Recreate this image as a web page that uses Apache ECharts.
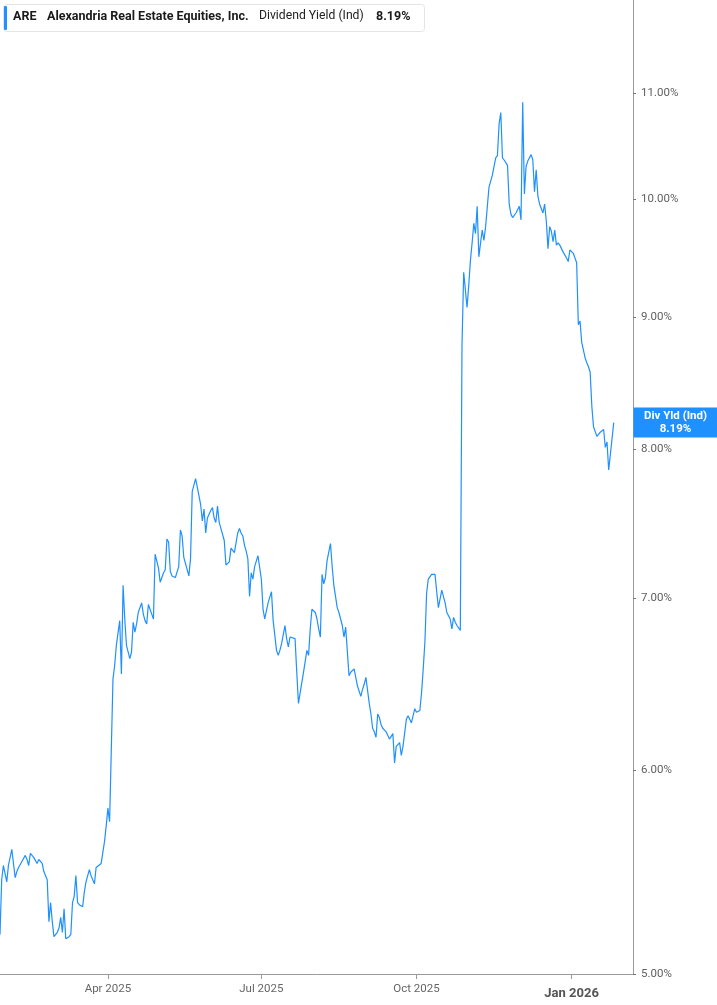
<!DOCTYPE html>
<html><head><meta charset="utf-8">
<script src="https://cdn.jsdelivr.net/npm/echarts@6/dist/echarts.min.js"></script>
<style>html,body{margin:0;padding:0;background:#fff}#c{width:717px;height:1005px}</style>
</head><body><div id="c"></div>
<script>
const ticker = 'ARE';
const company = 'Alexandria Real Estate Equities, Inc.';
const metric = 'Dividend Yield (Ind)';
const pointerTitle = 'Div Yld (Ind)';

const q1 = [['2025-01-27',5.18],['2025-01-28',5.44],['2025-01-29',5.51],['2025-01-30',5.51],['2025-01-31',5.43],
['2025-02-01',5.51],['2025-02-03',5.59],['2025-02-04',5.59],['2025-02-05',5.45],['2025-02-06',5.48],['2025-02-07',5.50],
['2025-02-09',5.53],['2025-02-11',5.56],['2025-02-12',5.54],['2025-02-13',5.51],['2025-02-14',5.57],['2025-02-16',5.55],
['2025-02-18',5.52],['2025-02-19',5.54],['2025-02-21',5.52],['2025-02-22',5.48],['2025-02-24',5.44],['2025-02-25',5.24],
['2025-02-26',5.33],['2025-02-27',5.24],['2025-02-28',5.17],['2025-03-02',5.19],['2025-03-03',5.21],['2025-03-04',5.26],
['2025-03-05',5.19],['2025-03-06',5.30],['2025-03-07',5.16],['2025-03-09',5.17],['2025-03-10',5.18],['2025-03-11',5.33],
['2025-03-12',5.36],['2025-03-13',5.46],['2025-03-14',5.33],['2025-03-15',5.32],['2025-03-17',5.31],['2025-03-18',5.38],
['2025-03-19',5.43],['2025-03-21',5.49],['2025-03-22',5.46],['2025-03-24',5.42],['2025-03-25',5.50],['2025-03-26',5.50],
['2025-03-28',5.52],['2025-03-30',5.63],['2025-03-31',5.71]];

const q2 = [['2025-04-01',5.80],['2025-04-02',5.73],['2025-04-04',6.51],['2025-04-05',6.59],['2025-04-06',6.71],['2025-04-08',6.86],
['2025-04-09',6.54],['2025-04-10',7.08],['2025-04-11',6.87],['2025-04-12',6.71],['2025-04-14',6.63],['2025-04-15',6.67],
['2025-04-16',6.85],['2025-04-17',6.79],['2025-04-18',6.84],['2025-04-19',6.91],['2025-04-21',6.97],['2025-04-22',6.90],
['2025-04-23',6.86],['2025-04-24',6.84],['2025-04-25',6.96],['2025-04-26',6.95],['2025-04-27',6.90],['2025-04-28',6.87],
['2025-04-29',7.28],['2025-04-30',7.27],['2025-05-01',7.19],['2025-05-02',7.10],['2025-05-03',7.13],['2025-05-04',7.16],
['2025-05-05',7.18],['2025-05-06',7.38],['2025-05-07',7.36],['2025-05-08',7.17],['2025-05-09',7.14],['2025-05-11',7.13],
['2025-05-12',7.12],['2025-05-13',7.20],['2025-05-14',7.44],['2025-05-15',7.40],['2025-05-16',7.26],['2025-05-18',7.18],
['2025-05-19',7.14],['2025-05-20',7.25],['2025-05-21',7.70],['2025-05-22',7.71],['2025-05-23',7.79],['2025-05-24',7.73],
['2025-05-25',7.67],['2025-05-26',7.61],['2025-05-27',7.50],['2025-05-28',7.58],['2025-05-29',7.42],['2025-05-30',7.52],
['2025-06-01',7.57],['2025-06-02',7.59],['2025-06-03',7.52],['2025-06-04',7.49],['2025-06-05',7.60],['2025-06-06',7.49],
['2025-06-07',7.45],['2025-06-09',7.37],['2025-06-10',7.21],['2025-06-12',7.23],['2025-06-13',7.32],['2025-06-15',7.29],
['2025-06-16',7.28],['2025-06-17',7.42],['2025-06-18',7.45],['2025-06-19',7.42],['2025-06-20',7.40],['2025-06-21',7.34],
['2025-06-22',7.30],['2025-06-23',7.25],['2025-06-24',7.01],['2025-06-25',7.16],['2025-06-26',7.12],['2025-06-27',7.20],
['2025-06-29',7.27]];

const q3 = [['2025-07-01',7.12],['2025-07-02',6.93],['2025-07-03',6.87],['2025-07-04',6.92],['2025-07-05',6.97],['2025-07-07',7.04],
['2025-07-08',6.86],['2025-07-09',6.86],['2025-07-10',6.68],['2025-07-11',6.65],['2025-07-12',6.68],['2025-07-13',6.72],
['2025-07-15',6.83],['2025-07-16',6.75],['2025-07-17',6.70],['2025-07-18',6.76],['2025-07-19',6.76],['2025-07-21',6.75],
['2025-07-22',6.55],['2025-07-23',6.37],['2025-07-24',6.43],['2025-07-25',6.43],['2025-07-26',6.55],['2025-07-28',6.68],
['2025-07-29',6.65],['2025-07-30',6.81],['2025-07-31',6.93],['2025-08-01',6.94],['2025-08-02',6.91],['2025-08-03',6.87],
['2025-08-04',6.81],['2025-08-05',6.76],['2025-08-06',7.15],['2025-08-07',7.09],['2025-08-08',7.13],['2025-08-09',7.24],
['2025-08-11',7.35],['2025-08-12',7.20],['2025-08-13',7.08],['2025-08-14',7.09],['2025-08-15',6.94],['2025-08-16',6.91],
['2025-08-17',6.87],['2025-08-18',6.83],['2025-08-19',6.76],['2025-08-20',6.82],['2025-08-21',6.82],['2025-08-22',6.53],
['2025-08-23',6.55],['2025-08-25',6.57],['2025-08-26',6.52],['2025-08-27',6.47],['2025-08-28',6.46],['2025-08-29',6.41],
['2025-08-30',6.45],['2025-08-31',6.48],['2025-09-01',6.52],['2025-09-02',6.53],['2025-09-03',6.37],['2025-09-04',6.31],
['2025-09-05',6.23],['2025-09-06',6.21],['2025-09-07',6.18],['2025-09-08',6.31],['2025-09-09',6.29],['2025-09-10',6.25],
['2025-09-11',6.23],['2025-09-13',6.21],['2025-09-14',6.19],['2025-09-15',6.17],['2025-09-16',6.17],['2025-09-17',6.20],
['2025-09-18',6.04],['2025-09-19',6.13],['2025-09-20',6.14],['2025-09-21',6.15],['2025-09-22',6.08],['2025-09-23',6.13],
['2025-09-25',6.28],['2025-09-26',6.30],['2025-09-27',6.28],['2025-09-28',6.26],['2025-09-30',6.34]];

const q4 = [['2025-10-01',6.32],['2025-10-02',6.31],['2025-10-03',6.33],['2025-10-04',6.43],['2025-10-05',6.57],['2025-10-06',6.73],
['2025-10-07',7.03],['2025-10-08',7.12],['2025-10-10',7.15],['2025-10-11',7.15],['2025-10-12',7.15],['2025-10-13',7.04],
['2025-10-14',6.94],['2025-10-16',7.05],['2025-10-18',6.97],['2025-10-19',6.91],['2025-10-20',6.89],['2025-10-21',6.87],
['2025-10-22',6.81],['2025-10-23',6.88],['2025-10-24',6.85],['2025-10-25',6.83],['2025-10-27',6.80],['2025-10-28',8.78],
['2025-10-29',9.37],['2025-10-31',9.08],['2025-11-01',9.26],['2025-11-02',9.47],['2025-11-03',9.62],['2025-11-04',9.79],
['2025-11-05',9.70],['2025-11-06',9.94],['2025-11-07',9.50],['2025-11-08',9.62],['2025-11-09',9.73],['2025-11-10',9.64],
['2025-11-11',9.76],['2025-11-13',10.11],['2025-11-14',10.11],['2025-11-15',10.22],['2025-11-17',10.38],['2025-11-18',10.40],
['2025-11-19',10.70],['2025-11-20',10.81],['2025-11-21',10.38],['2025-11-22',10.36],['2025-11-24',10.31],['2025-11-25',9.96],
['2025-11-26',9.87],['2025-11-27',9.84],['2025-11-29',9.88],['2025-12-01',9.94],['2025-12-02',9.82],['2025-12-03',10.91],
['2025-12-04',10.05],['2025-12-05',10.30],['2025-12-06',10.35],['2025-12-08',10.41],['2025-12-09',10.36],['2025-12-10',10.07],
['2025-12-11',10.27],['2025-12-12',10.03],['2025-12-13',9.96],['2025-12-15',9.88],['2025-12-16',9.96],['2025-12-17',9.81],
['2025-12-18',9.57],['2025-12-19',9.76],['2025-12-20',9.72],['2025-12-21',9.63],['2025-12-22',9.73],['2025-12-23',9.60],
['2025-12-24',9.62],['2025-12-25',9.60],['2025-12-27',9.54],['2025-12-29',9.49],['2025-12-30',9.46],['2025-12-31',9.56]];

const q5 = [['2026-01-01',9.56],['2026-01-02',9.53],['2026-01-03',9.49],['2026-01-04',9.45],['2026-01-05',8.94],['2026-01-06',8.97],
['2026-01-07',8.80],['2026-01-09',8.68],['2026-01-10',8.64],['2026-01-11',8.61],['2026-01-12',8.57],['2026-01-13',8.31],
['2026-01-14',8.16],['2026-01-16',8.09],['2026-01-18',8.12],['2026-01-20',8.14],['2026-01-21',8.01],['2026-01-22',8.05],
['2026-01-23',7.85],['2026-01-26',8.19]];

const yTicks = [5, 6, 7, 8, 9, 10, 11];
const xTicks = ['2025-04-01', '2025-07-01', '2025-10-01', '2026-01-01'];
const monthNames = ['Jan','Feb','Mar','Apr','May','Jun','Jul','Aug','Sep','Oct','Nov','Dec'];
const xMin = '2025-01-27', xMax = '2026-02-06';
const yMin = 5, yMax = 11.955;

function toTime(s) {
  const p = s.split('-').map(Number);
  return new Date(p[0], p[1] - 1, p[2]).getTime();
}

const series = [].concat(q1, q2, q3, q4, q5);
const last = series[series.length - 1][1];
const lineData = series.map(p => [toTime(p[0]), Math.log(p[1])]);
const xTickTimes = xTicks.map(toTime);
const yTickLogs = yTicks.map(Math.log);
const xEnd = toTime(xMax) + 36e6;

const blue = '#1e90ff';
const axisGrey = '#9a9a9a';
const W = 717;
const chart = echarts.init(document.getElementById('c'), null, {renderer: 'canvas'});
chart.setOption({
  animation: false,
  backgroundColor: '#fff',
  grid: {left: 0, right: 84, top: 0, bottom: 31},
  xAxis: {
    type: 'value', min: toTime(xMin), max: xEnd,
    axisLine: {show: true, onZero: false, lineStyle: {color: axisGrey, width: 1}},
    axisTick: {show: true, customValues: xTickTimes, length: 5, lineStyle: {color: axisGrey}},
    axisLabel: {
      customValues: xTickTimes, margin: 9, color: '#666', fontSize: 11.5, fontFamily: 'Roboto',
      formatter: function (v) {
        const d = new Date(v);
        const s = monthNames[d.getMonth()] + ' ' + d.getFullYear();
        return d.getMonth() === 0 ? '{b|' + s + '}' : s;
      },
      rich: {b: {fontWeight: 'bold', fontSize: 13, color: '#555', fontFamily: 'Roboto', padding: [4, 0, 0, 0]}}
    },
    splitLine: {show: false}
  },
  yAxis: {
    type: 'value', position: 'right', min: Math.log(yMin), max: Math.log(yMax),
    axisLine: {show: true, lineStyle: {color: axisGrey, width: 1}},
    axisTick: {show: true, customValues: yTickLogs, length: 3, lineStyle: {color: '#777'}},
    axisLabel: {
      customValues: yTickLogs, margin: 8, color: '#5f5f5f', fontSize: 11.5, fontFamily: 'Roboto',
      formatter: v => Math.exp(v).toFixed(2) + '%'
    },
    splitLine: {show: false}
  },
  series: [{
    type: 'line', data: lineData, showSymbol: false, symbol: 'none', silent: true,
    lineStyle: {color: blue, width: 1.2}
  }]
});

// last-value tag on the right axis, positioned through the library's own scales
const tagY = chart.convertToPixel({yAxisIndex: 0}, Math.log(last));
const axisX = chart.convertToPixel({xAxisIndex: 0}, xEnd);
const tagW = W - axisX;
chart.setOption({
  graphic: [
    {type: 'rect', left: 3, top: 4, z: 100, shape: {width: 421, height: 27, r: 3}, style: {fill: '#fff', stroke: '#e4e4e4', lineWidth: 1}},
    {type: 'rect', left: 4, top: 6, z: 101, shape: {width: 3, height: 24, r: 1}, style: {fill: blue}},
    {type: 'text', left: 13, top: 10, z: 101, style: {text: ticker, font: 'bold 12.5px Roboto', fill: '#1a1a1a'}},
    {type: 'text', left: 47, top: 10, z: 101, style: {text: company, font: 'bold 12.5px Roboto', fill: '#1a1a1a'}},
    {type: 'text', left: 259, top: 10, z: 101, style: {text: metric, font: '12.2px Roboto', fill: '#222'}},
    {type: 'text', left: 376, top: 10, z: 101, style: {text: last.toFixed(2) + '%', font: 'bold 12.5px Roboto', fill: '#1a1a1a'}},
    {type: 'rect', x: axisX + 0.5, y: tagY - 15, z: 110, shape: {width: tagW, height: 30}, style: {fill: blue}},
    {type: 'text', x: axisX + 0.5 + tagW / 2, y: tagY, z: 111,
      style: {text: pointerTitle + '\n' + last.toFixed(2) + '%', font: 'bold 11.5px Roboto', fill: '#fff',
        align: 'center', verticalAlign: 'middle', lineHeight: 13}}
  ]
});
</script></body></html>
